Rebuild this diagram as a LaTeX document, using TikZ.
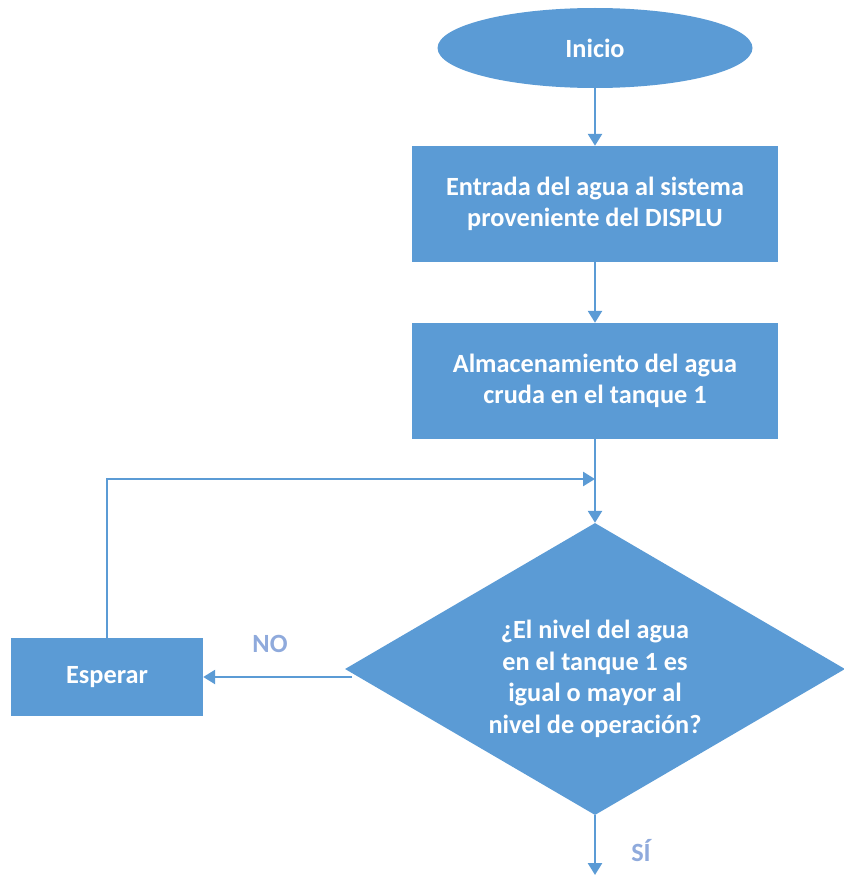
\documentclass[tikz,border=0pt]{standalone}
\usepackage{fontspec}
\setmainfont{Carlito}
\usetikzlibrary{shapes.geometric,arrows.meta}
\definecolor{obl}{HTML}{5B9BD5}
\definecolor{lbl}{HTML}{8FAADC}
\begin{document}
\begin{tikzpicture}[x=1pt,y=-1pt,
  blk/.style={fill=obl,draw=none,inner sep=0pt,text=white,font=\fontsize{26.3}{31.5}\selectfont\bfseries,align=center},
  procbox/.style={blk,rectangle,minimum width=366pt,minimum height=116pt},
  arr/.style={draw=obl,line width=2.6pt,-{Triangle[length=12pt,width=14pt]}},
  lab/.style={text=lbl,font=\fontsize{26.3}{30}\selectfont\bfseries}]
\useasboundingbox (0,0) rectangle (843,875);
\node[blk,ellipse,minimum width=315pt,minimum height=80pt] (ini) at (595,48) {Inicio};
\node[procbox] (b1) at (595,204) {Entrada del agua al sistema\\proveniente del DISPLU};
\node[procbox] (b2) at (595,381) {Almacenamiento del agua\\cruda en el tanque 1};
\node[blk,diamond,minimum width=500pt,minimum height=292pt] (d) at (595,669) {};
\node[blk,fill=none] (dt) at (595,679) {¿El nivel del agua\\en el tanque 1 es\\igual o mayor al\\nivel de operación?};
\node[blk,rectangle,minimum width=192pt,minimum height=78pt] (esp) at (107,677) {Esperar};
\coordinate (j) at (595,479);
\coordinate (fin) at (595,875);
\node[lab] (no) at (270,644) {NO};
\node[lab] (si) at (641,851) {SÍ};
\draw[arr] (ini.south) -- (b1.north);
\draw[arr] (b1.south) -- (b2.north);
\draw[arr] (b2.south) -- (d.north);
\draw[arr] (esp.north) |- (j);
\draw[arr] (esp.east -| 352,0) -- (esp.east);
\draw[arr] (d.south) -- (fin);
\end{tikzpicture}
\end{document}
